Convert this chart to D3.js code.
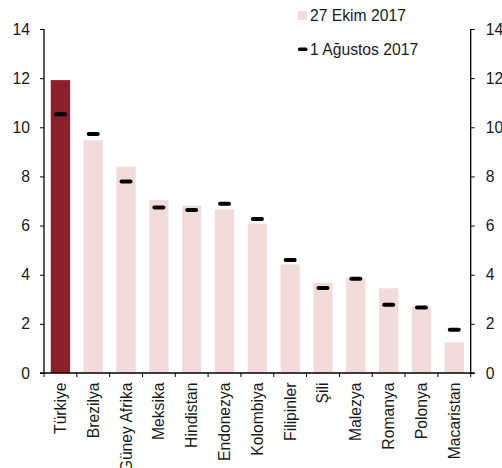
<!DOCTYPE html>
<html>
<head>
<meta charset="utf-8">
<script src="https://cdn.jsdelivr.net/npm/d3@7"></script>
<style>
  html, body { margin: 0; padding: 0; background: #fff; }
  svg { display: block; }
  text { font-family: "Liberation Sans", Arial, sans-serif; fill: #1a1a1a; }
</style>
</head>
<body>
<svg id="chart" width="502" height="468"></svg>
<script>
// Countries, left to right
const categories = ["Türkiye", "Brezilya", "Güney Afrika", "Meksika", "Hindistan", "Endonezya",
  "Kolombiya", "Filipinler", "Şili", "Malezya", "Romanya", "Polonya", "Macaristan"];
// Bars: 27 Ekim 2017
const oct27 = [11.92, 9.47, 8.40, 7.04, 6.81, 6.65, 6.08, 4.42, 3.68, 3.85, 3.45, 2.70, 1.25];
// Markers: 1 Ağustos 2017
const aug1 = [10.53, 9.73, 7.79, 6.74, 6.63, 6.89, 6.27, 4.60, 3.46, 3.84, 2.78, 2.67, 1.76];
const yTicks = [0, 2, 4, 6, 8, 10, 12, 14];
const legendLabels = ["27 Ekim 2017", "1 Ağustos 2017"];

const FS = 15.7;
const W = 502, H = 468;
const margin = { top: 29, right: 31.3, bottom: 95, left: 44 };
const x0 = margin.left, x1 = W - margin.right;
const yTop = margin.top, yBot = H - margin.bottom;

const svg = d3.select("#chart");

const y = d3.scaleLinear().domain([0, 14]).range([yBot, yTop]);
const xBand = d3.scaleBand().domain(categories).range([x0, x1])
  .paddingInner(0.41).paddingOuter(0.205);
const xStep = d3.scaleBand().domain(categories).range([x0, x1]).padding(0);

// Bars
svg.append("g").selectAll("rect").data(categories).join("rect")
  .attr("x", d => xBand(d))
  .attr("width", xBand.bandwidth())
  .attr("y", (d, i) => y(oct27[i]))
  .attr("height", (d, i) => y(0) - y(oct27[i]))
  .attr("fill", (d, i) => i === 0 ? "#8a1f2e" : "#f2dcdb");

// Markers
const mW = 13, mH = 4;
svg.append("g").selectAll("rect").data(categories).join("rect")
  .attr("x", d => xBand(d) + xBand.bandwidth() / 2 - mW / 2)
  .attr("y", (d, i) => y(aug1[i]) - mH / 2)
  .attr("width", mW).attr("height", mH)
  .attr("rx", 2).attr("ry", 2)
  .attr("fill", "#000");

// Left and right value axes
const leftAxis = d3.axisLeft(y).tickValues(yTicks).tickSize(4).tickPadding(10).tickFormat(d3.format("d"));
const rightAxis = d3.axisRight(y).tickValues(yTicks).tickSize(4).tickPadding(11).tickFormat(d3.format("d"));

function styleAxis(g) {
  g.select(".domain").remove();
  g.selectAll(".tick line").attr("stroke", "#000").attr("stroke-width", 1);
  g.selectAll(".tick text").attr("font-size", FS).attr("fill", "#1a1a1a")
    .attr("font-family", "Liberation Sans, Arial, sans-serif");
}
svg.append("g").attr("transform", `translate(${x0},0)`).call(leftAxis).call(styleAxis);
svg.append("g").attr("transform", `translate(${x1},0)`).call(rightAxis).call(styleAxis);

svg.append("line").attr("x1", x0).attr("x2", x0).attr("y1", yTop).attr("y2", yBot)
  .attr("stroke", "#000").attr("stroke-width", 1.3);
svg.append("line").attr("x1", x1).attr("x2", x1).attr("y1", yTop).attr("y2", yBot)
  .attr("stroke", "#000").attr("stroke-width", 1.3);

// Category axis: baseline, boundary ticks, rotated labels
svg.append("line").attr("x1", x0 - 4).attr("x2", x1 + 4).attr("y1", yBot).attr("y2", yBot)
  .attr("stroke", "#000").attr("stroke-width", 1.3);
const bounds = categories.map(c => xStep(c)).concat([x1]);
svg.append("g").selectAll("line").data(bounds).join("line")
  .attr("x1", d => d).attr("x2", d => d)
  .attr("y1", yBot).attr("y2", yBot + 4)
  .attr("stroke", "#000");

svg.append("g").selectAll("text").data(categories).join("text")
  .attr("transform", d => `translate(${xBand(d) + xBand.bandwidth() / 2},${yBot + 9.5}) rotate(-90)`)
  .attr("text-anchor", "end")
  .attr("dy", "0.35em")
  .attr("font-size", FS)
  .text(d => d);

// Legend
const lg = svg.append("g");
lg.append("rect").attr("x", 298).attr("y", 11).attr("width", 9).attr("height", 9).attr("fill", "#f2dcdb");
lg.append("text").attr("x", 310).attr("y", 20.5).attr("font-size", FS).text(legendLabels[0]);
lg.append("rect").attr("x", 298).attr("y", 47.5).attr("width", 9.5).attr("height", 3.6)
  .attr("rx", 1.5).attr("fill", "#000");
lg.append("text").attr("x", 310).attr("y", 55).attr("font-size", FS).text(legendLabels[1]);
</script>
</body>
</html>
